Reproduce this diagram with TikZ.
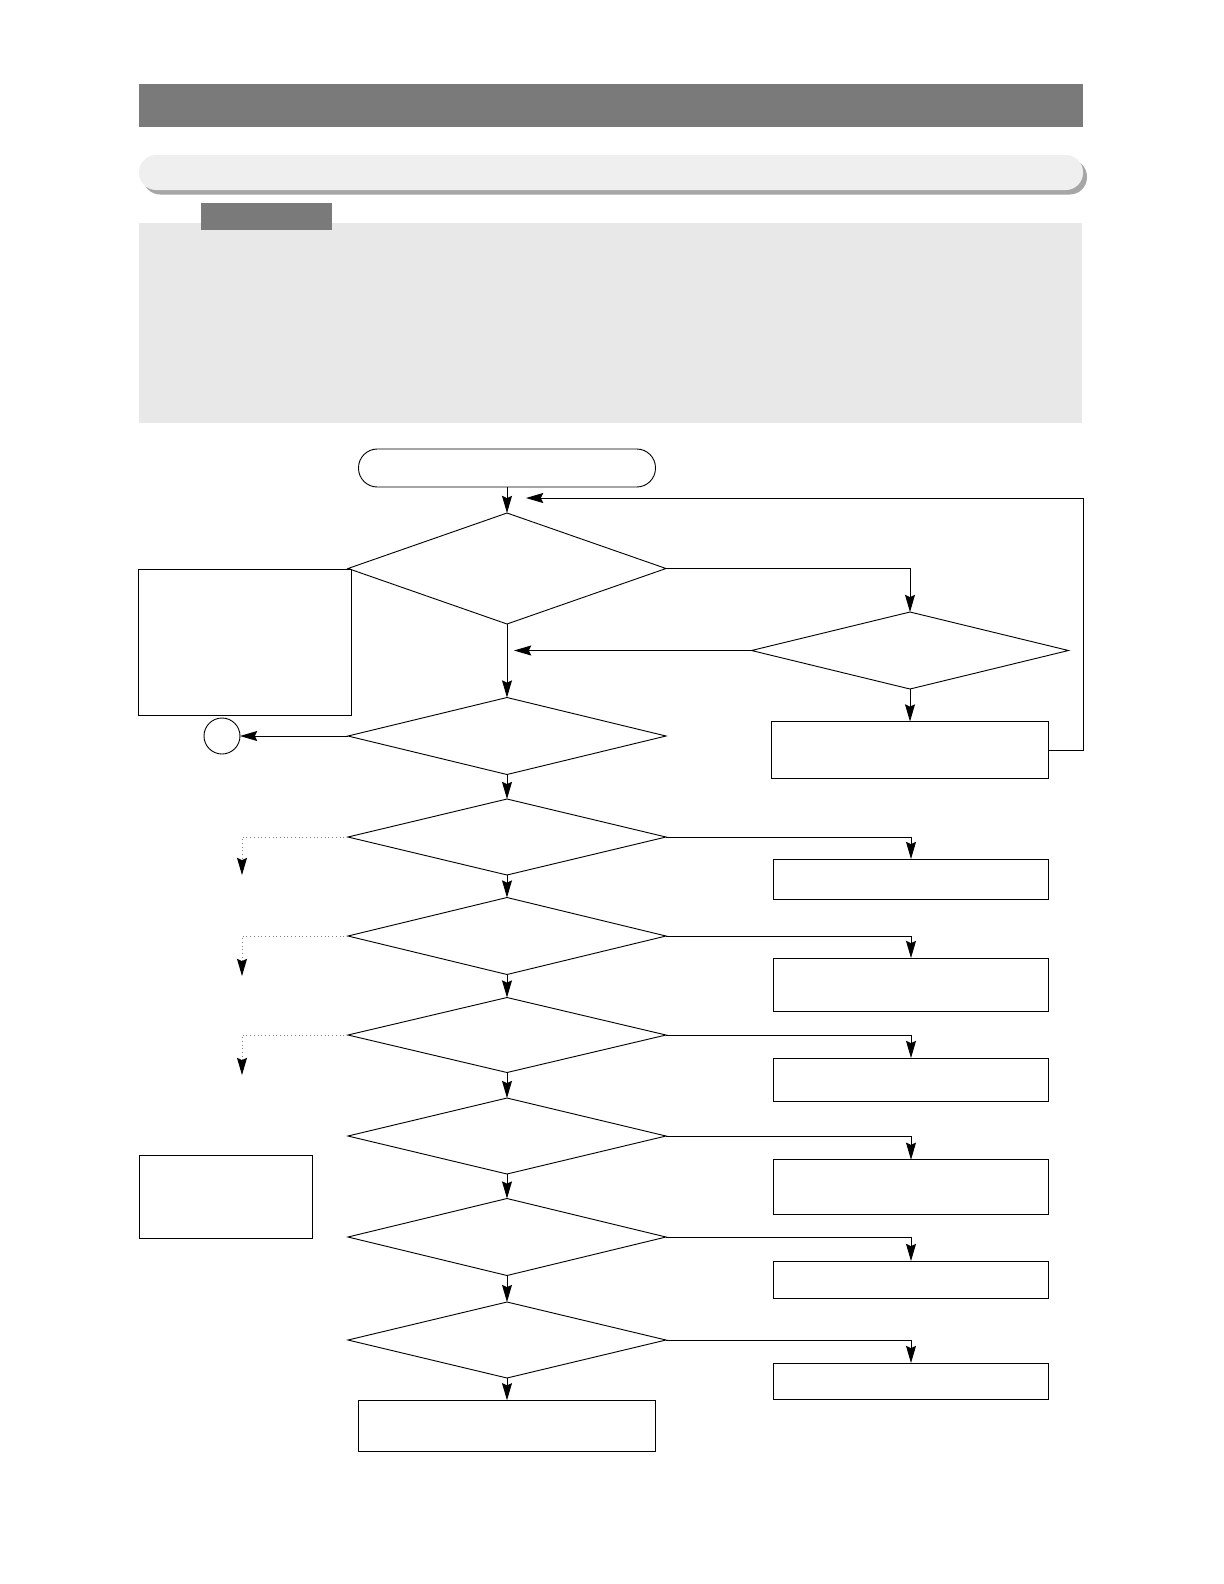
\documentclass[tikz,border=0pt]{standalone}
\usepackage{tikz}
\usetikzlibrary{shapes.geometric,arrows.meta,positioning,calc}

\definecolor{bargray}{HTML}{7A7A7A}
\definecolor{pillgray}{HTML}{EFEFEF}
\definecolor{shadegray}{HTML}{A6A6A6}
\definecolor{panelgray}{HTML}{E8E8E8}

\begin{document}
\begin{tikzpicture}[x=0.25mm,y=-0.25mm,
  sz/.style 2 args={minimum width=#1*0.25mm,minimum height=#2*0.25mm},
  box/.style={draw,rectangle,line width=0.65pt,inner sep=0pt,outer sep=0pt,fill=white},
  dec/.style={draw,diamond,line width=0.65pt,inner sep=0pt,outer sep=0pt,fill=white},
  term/.style={draw,rectangle,rounded corners=4.7mm,line width=0.65pt,inner sep=0pt,outer sep=0pt,fill=white},
  conn/.style={draw,circle,line width=0.65pt,inner sep=0pt,outer sep=0pt,minimum size=9mm},
  arr/.style={-{Stealth[length=4.3mm,width=2.5mm,inset=0.6mm]},line width=0.65pt},
  dotarr/.style={-{Stealth[length=4.3mm,width=2.5mm,inset=0.6mm,color=black]},draw=gray,dotted,line width=0.65pt}]
\useasboundingbox (0,0) rectangle (1224,1584);
% ---------- Header bars ----------
\node[rectangle,fill=bargray,inner sep=0pt,sz={944}{43}] (title) at (611,105.5) {};
\node[rectangle,fill=shadegray,rounded corners=4.3mm,inner sep=0pt,sz={944}{35}] (pillshade) at (615,177) {};
\node[rectangle,fill=pillgray,rounded corners=4.3mm,inner sep=0pt,sz={944}{35}] (pill) at (611,172.5) {};
\node[rectangle,fill=panelgray,inner sep=0pt,sz={943}{200}] (panel) at (610.5,323) {};
\node[rectangle,fill=bargray,inner sep=0pt,sz={131}{27}] (tab) at (266.5,216.5) {};
% ---------- Top: start and first checks ----------
\node[term,sz={297}{38}] (start) at (507,468) {};
\node[dec,sz={318}{111}] (d1) at (507,568.5) {};
\node[box,sz={212.5}{146}] (note1) at (245,642) {};
\node[dec,sz={317}{77}] (dr) at (910,650.5) {};
\node[box,sz={276.5}{57}] (r1) at (910,750) {};
\node[dec,sz={318}{77}] (d2) at (507,736) {};
\node[conn] (circ) at (222,736) {};
\coordinate (drin) at (514,650.5);
\coordinate (loopx) at (1083,498);
\coordinate (loopin) at (526,498);
\draw[arr] (start) -- (d1);
\draw[arr] (d1.east) -| (dr.north);
\draw[arr] (d1.south) -- (d2.north);
\draw[arr] (dr.west) -- (drin);
\draw[arr] (dr.south) -- (r1.north);
\draw[arr] (r1.east) -| (loopx) -- (loopin);
\draw[arr] (d2.west) -- (circ.east);
% ---------- Chain of checks ----------
\node[dec,sz={318}{76}] (d3) at (507,837) {};
\node[dec,sz={318}{77}] (d4) at (507,936) {};
\node[dec,sz={318}{75}] (d5) at (507,1035) {};
\node[dec,sz={318}{76}] (d6) at (507,1136) {};
\node[dec,sz={318}{77}] (d7) at (507,1237) {};
\node[dec,sz={318}{76}] (d8) at (507,1340) {};
\node[box,sz={297}{51.5}] (last) at (507,1426) {};
\draw[arr] (d2.south) -- (d3.north);
\draw[arr] (d3.south) -- (d4.north);
\draw[arr] (d4.south) -- (d5.north);
\draw[arr] (d5.south) -- (d6.north);
\draw[arr] (d6.south) -- (d7.north);
\draw[arr] (d7.south) -- (d8.north);
\draw[arr] (d8.south) -- (last.north);
% ---------- Right-hand results ----------
\node[box,sz={275.5}{40}] (b2) at (911,879) {};
\node[box,sz={275.5}{53}] (b3) at (911,984.5) {};
\node[box,sz={275.5}{43}] (b4) at (911,1079.5) {};
\node[box,sz={275.5}{54.5}] (b5) at (911,1187) {};
\node[box,sz={275.5}{37}] (b6) at (911,1279.5) {};
\node[box,sz={275.5}{36}] (b7) at (911,1381) {};
\draw[arr] (d3.east) -| (b2.north);
\draw[arr] (d4.east) -| (b3.north);
\draw[arr] (d5.east) -| (b4.north);
\draw[arr] (d6.east) -| (b5.north);
\draw[arr] (d7.east) -| (b6.north);
\draw[arr] (d8.east) -| (b7.north);
% ---------- Left-hand branches ----------
\node[box,sz={173}{83}] (note2) at (225.5,1196.5) {};
\coordinate (out3) at (242,875);
\coordinate (out4) at (242,976);
\coordinate (out5) at (242,1075);
\draw[dotarr] (d3.west) -| (out3);
\draw[dotarr] (d4.west) -| (out4);
\draw[dotarr] (d5.west) -| (out5);
\end{tikzpicture}
\end{document}
